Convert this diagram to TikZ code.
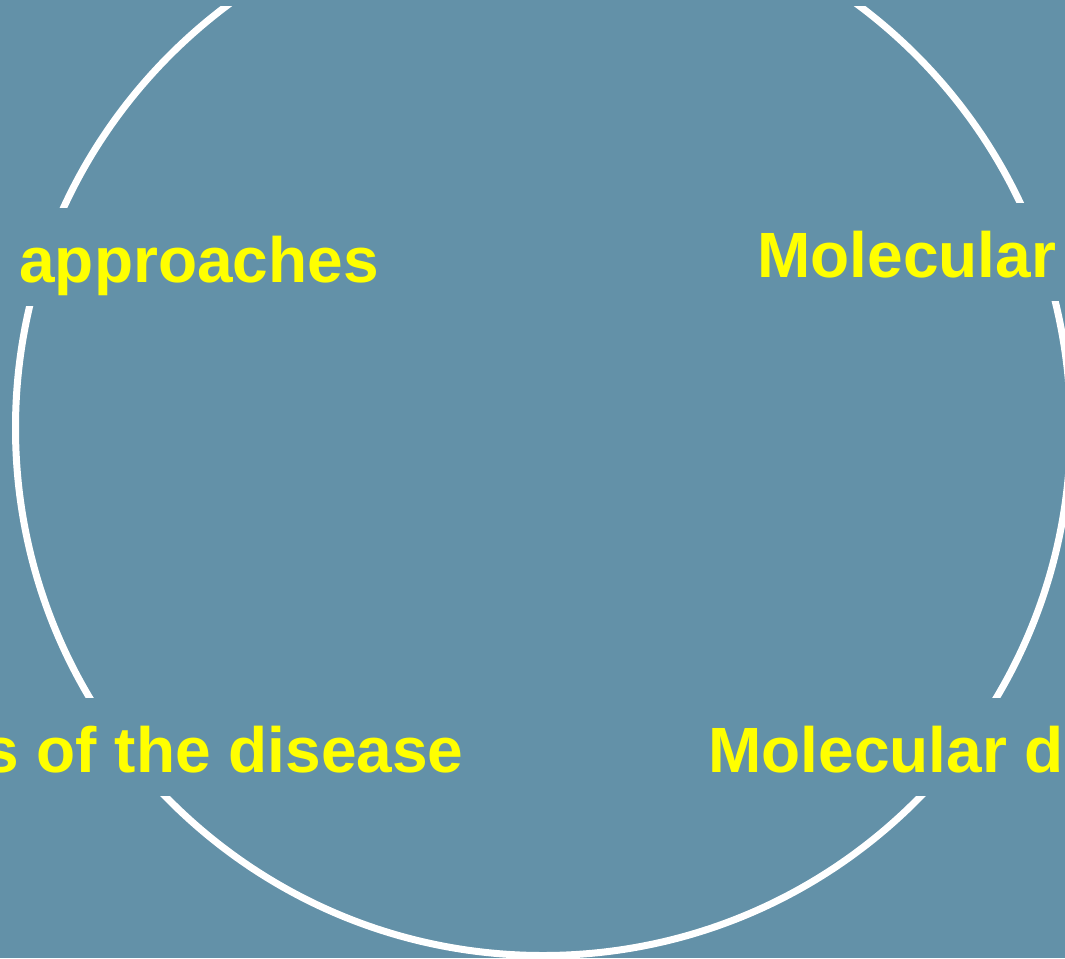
\documentclass[tikz,border=0pt]{standalone}
\usepackage{fontspec}
\setmainfont{Liberation Sans}
\definecolor{slideBlue}{HTML}{6391A8}
\definecolor{topicYellow}{HTML}{FFFF00}

\begin{document}
\begin{tikzpicture}[
    x=0.5pt,y=-0.5pt,
    ring/.style={draw=white,line width=3.5pt},
    topic/.style={fill=slideBlue,text=topicYellow,
      font=\bfseries\fontsize{32}{38}\selectfont,
      inner xsep=6pt,inner ysep=0pt,text height=37pt,text depth=12pt}
  ]
    \clip (0,0) rectangle (1065,958);
    \fill[slideBlue] (0,0) rectangle (1065,958);
    \coordinate (centre) at (543,428);
    \begin{scope}
      \clip (0,6) rectangle (1065,958);
      \draw[ring] (centre) circle [radius=527.5];
    \end{scope}

    \node[topic,anchor=base west] (approaches) at (7,282) {approaches};
    \node[topic,anchor=base west] (molecularTop) at (745,277) {Molecular};
    \node[topic,anchor=base east] (disease) at (476,772) {s of the disease};
    \node[topic,anchor=base west] (molecularBottom) at (696,772) {Molecular d};
  \end{tikzpicture}
\end{document}
